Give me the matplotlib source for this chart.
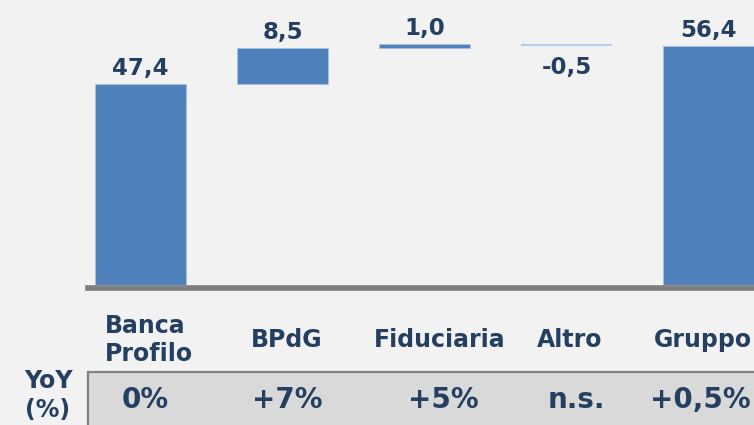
import matplotlib.pyplot as plt
from matplotlib.patches import Rectangle

categories = ['Banca\nProfilo', 'BPdG', 'Fiduciaria', 'Altro', 'Gruppo']
values = [47.4, 8.5, 1.0, -0.5, 56.4]
value_labels = ['47,4', '8,5', '1,0', '-0,5', '56,4']
yoy_labels = ['0%', '+7%', '+5%', 'n.s.', '+0,5%']

navy = '#243F60'
blue = '#4F81BD'
bg = '#F2F2F2'

# waterfall bottoms: first and last are totals
bottoms = []
running = 0
for i, v in enumerate(values):
    if i == 0 or i == len(values) - 1:
        bottoms.append(0)
        running = v
    else:
        bottoms.append(running)
        running += v

W, H = 754, 425
fig = plt.figure(figsize=(W / 100, H / 100), dpi=100, facecolor=bg)
ax = fig.add_axes([88 / W, 1 - 285 / H, (W - 88) / W, 285 / H])
ax.set_facecolor(bg)
ax.set_xlim(-0.37, 4.32)
ax.set_ylim(0, 67.2)
ax.axis('off')

x = range(len(values))
colors = [blue, blue, blue, '#B8CDE8', blue]
edges = ['#A9C0DE', '#A9C0DE', '#A9C0DE', 'none', '#A9C0DE']
ax.bar(x, values, bottom=bottoms, width=0.64, color=colors,
       edgecolor=edges, linewidth=0.6)

# baseline
ax.axhline(-0.7, color='#7F7F7F', linewidth=4.1, clip_on=False)

for i, (v, b, lab) in enumerate(zip(values, bottoms, value_labels)):
    top = b + v
    if v >= 0:
        ax.annotate(lab, (i, top), xytext=(0, 3), textcoords='offset points',
                    ha='center', va='bottom', fontsize=16.5, fontweight='bold', color=navy)
    else:
        ax.annotate(lab, (i, b), xytext=(0, -9), textcoords='offset points',
                    ha='center', va='top', fontsize=16.5, fontweight='bold', color=navy)

# category labels under the baseline
cat_x = [105, 287, 440, 570, 703]
for i, (lab, cx) in enumerate(zip(categories, cat_x)):
    ha = 'left' if i == 0 else 'center'
    fig.text(cx / W, 1 - 340 / H, lab, ha=ha, va='center', fontsize=17,
             fontweight='bold', color=navy, linespacing=1.2)

# YoY row
box = Rectangle((88 / W, -0.05), 1, (H - 372) / H + 0.05, transform=fig.transFigure,
                facecolor='#D9D9D9', edgecolor='#808080', linewidth=1.6)
fig.patches.append(box)
fig.text(48 / W, 1 - 381 / H, 'YoY', ha='center', va='center', fontsize=17,
         fontweight='bold', color=navy)
fig.text(48 / W, 1 - 410 / H, '(%)', ha='center', va='center', fontsize=17,
         fontweight='bold', color=navy)
yoy_x = [145, 287, 443, 576, 700]
for lab, cx in zip(yoy_labels, yoy_x):
    fig.text(cx / W, 1 - 400 / H, lab, ha='center', va='center', fontsize=20,
             fontweight='bold', color=navy)

fig.savefig('out.png', dpi=100, facecolor=bg)
